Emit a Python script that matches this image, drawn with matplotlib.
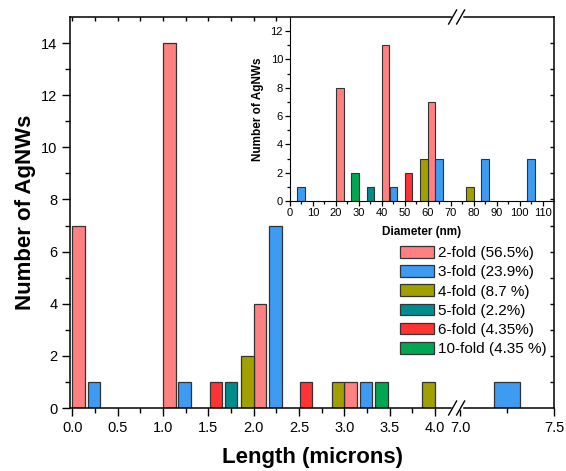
import numpy as np
import matplotlib
matplotlib.use("Agg")
import matplotlib.pyplot as plt
from matplotlib.lines import Line2D

plt.rcParams["font.family"] = ["Liberation Sans", "DejaVu Sans"]

# main histogram: length (microns), bar centres and counts per twin type
len_2fold = [0.07, 1.07, 2.07, 3.07]
cnt_len_2fold = [7, 14, 4, 1]
len_3fold = [0.24, 1.24, 2.24, 3.24, 7.25]
cnt_len_3fold = [1, 1, 7, 1, 1]
len_4fold = [1.93, 2.93, 3.93]
cnt_len_4fold = [2, 1, 1]
len_5fold = [1.75]
cnt_len_5fold = [1]
len_6fold = [1.585, 2.58]
cnt_len_6fold = [1, 1]
len_10fold = [3.41]
cnt_len_10fold = [1]

# inset: diameter (nm)
dia_2fold = [21.7, 41.6, 61.6]
cnt_dia_2fold = [8, 11, 7]
dia_3fold = [4.9, 45.0, 65.0, 85.0, 105.0]
cnt_dia_3fold = [1, 1, 3, 3, 3]
dia_4fold = [58.3, 78.3]
cnt_dia_4fold = [3, 1]
dia_5fold = [35.0]
cnt_dia_5fold = [1]
dia_6fold = [51.6]
cnt_dia_6fold = [2]
dia_10fold = [28.4]
cnt_dia_10fold = [2]

labels = ["2-fold (56.5%)", "3-fold (23.9%)", "4-fold (8.7 %)",
          "5-fold (2.2%)", "6-fold (4.35%)", "10-fold (4.35 %)"]
colors = ["#FF8080", "#3D9BF2", "#A0A000", "#008C8C", "#FF3333", "#00A651"]

len_series = [(len_2fold, cnt_len_2fold), (len_3fold, cnt_len_3fold),
              (len_4fold, cnt_len_4fold), (len_5fold, cnt_len_5fold),
              (len_6fold, cnt_len_6fold), (len_10fold, cnt_len_10fold)]
dia_series = [(dia_2fold, cnt_dia_2fold), (dia_3fold, cnt_dia_3fold),
              (dia_4fold, cnt_dia_4fold), (dia_5fold, cnt_dia_5fold),
              (dia_6fold, cnt_dia_6fold), (dia_10fold, cnt_dia_10fold)]

# broken x axis: 0..4.24 linear, then jump to 6.983..7.5 stretched
B0, B1, K, EPS = 4.24, 6.983, 2.073, 1e-3
GAP = B0 + (B1 - B0) * EPS


def fwd(x):
    x = np.asarray(x, float)
    return np.where(x <= B0, x,
                    np.where(x < B1, B0 + (x - B0) * EPS, GAP + (x - B1) * K))


def inv(u):
    u = np.asarray(u, float)
    return np.where(u <= B0, u,
                    np.where(u < GAP, B0 + (u - B0) / EPS, B1 + (u - GAP) / K))


W, H = 566, 471
fig = plt.figure(figsize=(W / 100, H / 100), dpi=100)
rect = [70 / W, 1 - 408 / H, 484 / W, 391 / H]
ax = fig.add_axes(rect)
ax.set_xscale("function", functions=(fwd, inv))
ax.set_xlim(-0.025, 7.5)
ax.set_ylim(0, 15)

for (xs, ys), c, lab in zip(len_series, colors, labels):
    ax.bar(xs, ys, width=0.14, color=c, edgecolor="#333333", linewidth=0.9,
           label=lab)

major_x = [0, 0.5, 1, 1.5, 2, 2.5, 3, 3.5, 4, 7.0, 7.5]
minor_x = list(np.arange(0.25, 4.0, 0.5)) + [7.25]
ax.set_xticks(major_x)
ax.set_xticklabels(["0.0", "0.5", "1.0", "1.5", "2.0", "2.5", "3.0", "3.5",
                    "4.0", "7.0", "7.5"])
ax.set_xticks(minor_x, minor=True)
ax.set_yticks(range(0, 15, 2))
ax.set_yticks(range(1, 15, 2), minor=True)
ax.tick_params(which="major", direction="out", length=6, width=1,
               labelsize=10.5, pad=3)
ax.tick_params(which="minor", direction="out", length=3.5, width=1)
for s in ax.spines.values():
    s.set_linewidth(1.1)
ax.set_xlabel("Length (microns)", fontsize=16, fontweight="bold", labelpad=9)
ax.set_ylabel("Number of AgNWs", fontsize=16, fontweight="bold", labelpad=4)

# break marks on bottom and top spines
trans = ax.transAxes
xb = trans.inverted().transform(ax.transData.transform((B0 + 0.15, 0)))[0]
dx, dy, sep = 4 / 484, 7 / 391, 8 / 484
for yb in (0, 1):
    ax.add_line(Line2D([xb - sep / 2, xb + sep / 2], [yb, yb], transform=trans,
                       color="white", linewidth=2.5, clip_on=False, zorder=5))
    for cx in (xb - sep / 2, xb + sep / 2):
        ax.add_line(Line2D([cx - dx, cx + dx], [yb - dy, yb + dy],
                           transform=trans, color="black", linewidth=1,
                           clip_on=False, zorder=6))

# inset: diameter histogram
ins = fig.add_axes([290 / W, 1 - 201 / H, 264 / W, 184 / H])
ins.patch.set_visible(False)
for (xs, ys), c in zip(dia_series, colors):
    ins.bar(xs, ys, width=3.3, color=c, edgecolor="#333333", linewidth=0.8)
ins.set_xlim(0, 115)
ins.set_ylim(0, 13)
ins.set_xticks(range(0, 111, 10))
ins.set_xticks(range(5, 111, 10), minor=True)
ins.set_yticks(range(0, 13, 2))
ins.set_yticks(range(1, 13, 2), minor=True)
ins.tick_params(which="major", direction="out", length=3.5, width=0.9,
                labelsize=8, pad=1.5)
ins.tick_params(which="minor", direction="out", length=2, width=0.9)
ins.spines["top"].set_visible(False)
ins.spines["right"].set_visible(False)
ins.set_xlabel("Diameter (nm)", fontsize=8.5, fontweight="bold", labelpad=6)
ins.set_ylabel("Number of AgNWs", fontsize=8.5, fontweight="bold", labelpad=5)

# mirrored inward ticks on top and right of the main frame
frame = fig.add_axes(rect)
frame.set_xscale("function", functions=(fwd, inv))
frame.set_xlim(-0.025, 7.5)
frame.set_ylim(0, 15)
frame.set_frame_on(False)
frame.patch.set_visible(False)
frame.xaxis.tick_top()
frame.yaxis.tick_right()
frame.set_xticks(np.arange(0, 2.4, 0.25))
frame.set_yticks(range(1, 15))
frame.tick_params(direction="in", length=3, width=1,
                  labeltop=False, labelright=False)

handles, labs = ax.get_legend_handles_labels()
fig.legend(handles, labs, loc="upper left",
           bbox_to_anchor=(400 / W, 1 - 246 / H), frameon=False,
           fontsize=11, handlelength=2.2, handleheight=0.8,
           handletextpad=0.3, labelspacing=0.33, borderpad=0,
           borderaxespad=0)

fig.savefig("out.png", dpi=100)
